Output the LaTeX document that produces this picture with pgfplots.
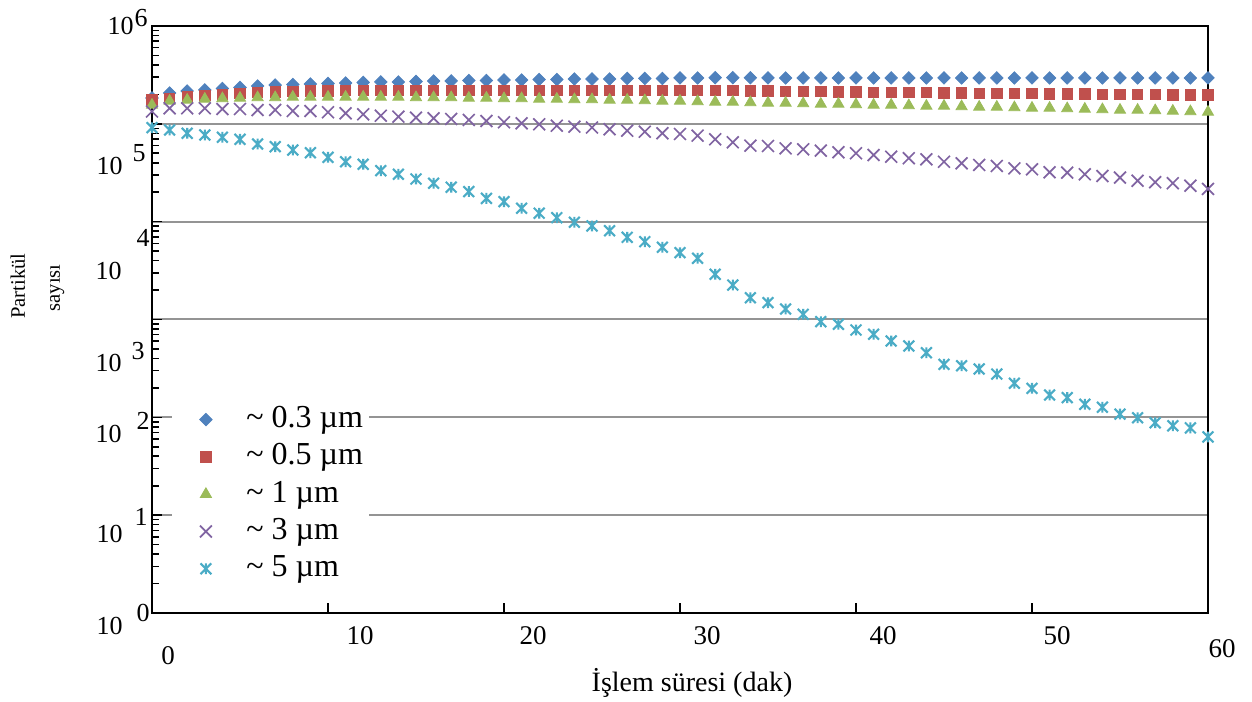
\documentclass[border=0pt]{standalone}
\usepackage{fontspec}
\setmainfont{Liberation Serif}
\usepackage{pgfplots}
\pgfplotsset{compat=1.18}
\usepackage{pgfplotstable}

\definecolor{cA}{HTML}{4F81BD}
\definecolor{cB}{HTML}{C0504D}
\definecolor{cC}{HTML}{9BBB59}
\definecolor{cD}{HTML}{8064A2}
\definecolor{cE}{HTML}{4BACC6}

% x with a vertical bar, like the spreadsheet "star" marker
\pgfdeclareplotmark{xbar}{%
  \pgfpathmoveto{\pgfqpoint{-\pgfplotmarksize}{-\pgfplotmarksize}}%
  \pgfpathlineto{\pgfqpoint{\pgfplotmarksize}{\pgfplotmarksize}}%
  \pgfpathmoveto{\pgfqpoint{-\pgfplotmarksize}{\pgfplotmarksize}}%
  \pgfpathlineto{\pgfqpoint{\pgfplotmarksize}{-\pgfplotmarksize}}%
  \pgfpathmoveto{\pgfqpoint{0pt}{-\pgfplotmarksize}}%
  \pgfpathlineto{\pgfqpoint{0pt}{\pgfplotmarksize}}%
  \pgfusepathqstroke}

% t = dakika; a = 0.3, b = 0.5, c = 1, d = 3, e = 5 um
\pgfplotstableread{
t a b c d e
0 183700 176200 155900 133700 91300
1 206700 181600 171300 144200 86500
2 216600 188000 175400 144200 80100
3 221800 195000 179500 144200 76900
4 229600 199500 181600 141800 72900
5 235100 204300 183800 141800 69500
6 243600 209000 186000 138500 62200
7 249300 211600 186000 138500 58400
8 252300 214100 188200 135300 54000
9 255300 216600 188200 135300 50700
10 258300 216600 188200 131300 45500
11 261600 219200 188200 128200 41000
12 264600 219200 188200 125200 38600
13 267900 219800 188200 121100 33200
14 267900 219200 188200 118400 30500
15 271000 219800 186000 115600 27300
16 274200 219200 186000 114000 24700
17 274200 219800 186000 112100 22500
18 277300 219200 183800 109500 20300
19 277300 219800 183800 106900 17300
20 280600 219200 181600 103700 16000
21 280600 219800 181600 101300 13700
22 283900 219200 179500 98900 12200
23 283900 219800 179500 95700 10980
24 287100 219200 177400 93500 9860
25 287100 219800 177400 91800 9040
26 287100 219200 175400 88000 8090
27 290900 219800 175400 85100 6920
28 290900 219200 173300 83100 6240
29 290900 219800 171300 80100 5470
30 294400 219200 171300 78800 4820
31 294400 219800 169300 75700 4220
32 296000 219200 167300 69500 2900
33 296000 219000 167300 64800 2250
34 296000 218000 165300 59800 1670
35 294400 217000 163400 59400 1485
36 294400 216000 163400 56200 1280
37 294400 215000 161400 54900 1130
38 294400 214000 159500 53200 950
39 294400 213000 159500 51200 893
40 294400 212000 157700 50000 781
41 294400 211000 155900 48000 706
42 294400 210500 155900 46100 603
43 294400 210000 154000 44500 536
44 294400 209000 152200 43400 458
45 294400 208000 152200 41000 348
46 294400 207000 150400 39500 337
47 294400 206000 148700 38000 312
48 294400 205000 148700 37100 277
49 294400 204500 146900 35100 223
50 294400 204000 145200 34300 198
51 294400 203000 145200 32000 169
52 294400 202500 143500 31700 159
53 294400 202000 141800 30500 136
54 294400 201000 140200 29300 127
55 294400 200500 138500 28200 108
56 294400 200000 138500 26200 99
57 294400 199000 136900 25300 88
58 294400 198500 135300 24700 82
59 294400 198000 133700 23300 78
60 294400 197300 132100 21600 63
}\data

\begin{document}
\begin{tikzpicture}
\begin{axis}[
  scale only axis, width=528pt, height=293.5pt,
  xmin=0, xmax=60, ymode=log, ymin=1, ymax=1e6,
  xtick={10,20,30,40,50}, xticklabels={},
  ytick={1,10,100,1000,10000,100000,1000000}, yticklabels={},
  xtick pos=bottom, ytick pos=left,
  tick align=inside, major tick length=5pt, minor tick length=3.5pt,
  tick style={black, line width=0.8pt},
  axis line style={black, line width=1pt},
  ymajorgrids, grid style={black!42, line width=1pt},
  clip=false,
  legend cell align=left,
  legend image code/.code={\draw[#1] plot coordinates {(17pt,0pt)}; \path (0pt,0pt) (34pt,0pt);},
  legend style={at={(axis description cs:0.0181,0.354)}, anchor=north west,
    draw=none, fill=white, inner sep=0pt, row sep=4.65pt,
    font=\fontsize{16}{18}\selectfont,
    nodes={inner xsep=3pt, inner ysep=0pt, text height=11pt, text depth=3pt}},
]
\addplot[only marks, mark=square*, mark size=2.2pt, color=cA,
  mark options={rotate=45, fill=cA, draw=cA}] table[x=t, y=a] {\data};
\addlegendentry{\char"7E\ 0.3 µm}
\addplot[only marks, mark=square*, mark size=2.6pt, color=cB,
  mark options={fill=cB, draw=cB}] table[x=t, y=b] {\data};
\addlegendentry{\char"7E\ 0.5 µm}
\addplot[only marks, mark=triangle*, mark size=3.2pt, color=cC,
  mark options={fill=cC, draw=cC}] table[x=t, y=c] {\data};
\addlegendentry{\char"7E\ 1 µm}
\addplot[only marks, mark=x, mark size=4.2pt, color=cD,
  mark options={line width=0.85pt}] table[x=t, y=d] {\data};
\addlegendentry{\char"7E\ 3 µm}
\addplot[only marks, mark=xbar, mark size=2.7pt, color=cE,
  mark options={line width=1.05pt}] table[x=t, y=e] {\data};
\addlegendentry{\char"7E\ 5 µm}
\end{axis}

% labels placed in picture pixels of the 1252 x 701 layout
\begin{scope}[shift={(current axis.south west)}, x=0.5pt, y=-0.5pt, shift={(-152,-613)}]
  \begin{scope}[every node/.style={inner sep=0pt, anchor=base east, font=\fontsize{13}{15}\selectfont}]
    \node at (134,35) {10};  \node at (148,27) {6};
    \node at (123,175) {10}; \node at (146,162) {5};
    \node at (122,280) {10}; \node at (150,247) {4};
    \node at (122,372) {10}; \node at (145,360) {3};
    \node at (122,443) {10}; \node at (150,430) {2};
    \node at (123,543) {10}; \node at (148,526) {1};
    \node at (123,635) {10}; \node at (150,622) {0};
  \end{scope}
  \begin{scope}[every node/.style={inner sep=0pt, anchor=base, font=\fontsize{13.5}{16}\selectfont}]
    \node at (168,665) {0};
    \node at (360,645) {10};
    \node at (533,645) {20};
    \node at (707,645) {30};
    \node at (883,645) {40};
    \node at (1057,645) {50};
    \node at (1222,658) {60};
  \end{scope}
  \node[inner sep=0pt, anchor=base, font=\fontsize{14}{16}\selectfont] at (692,691) {İşlem süresi (dak)};
  \node[inner sep=0pt, anchor=base, rotate=90, font=\fontsize{10.3}{12}\selectfont] at (25,286) {Partikül};
  \node[inner sep=0pt, anchor=base, rotate=90, font=\fontsize{10.3}{12}\selectfont] at (60,288) {sayısı};
  \pgfresetboundingbox
  \path[use as bounding box] (0,0) rectangle (1252,701);
\end{scope}
\end{tikzpicture}
\end{document}
